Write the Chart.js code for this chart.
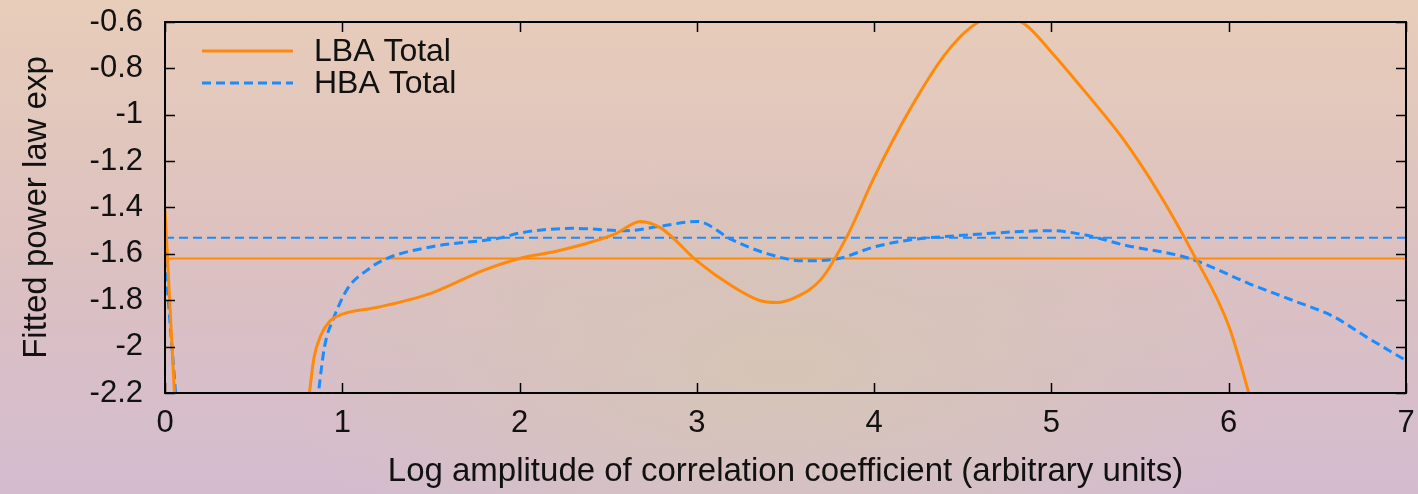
<!DOCTYPE html>
<html>
<head>
<meta charset="utf-8">
<script src="https://cdn.jsdelivr.net/npm/chart.js@4.4.1/dist/chart.umd.min.js"></script>
<style>
  html, body { margin: 0; padding: 0; }
  body {
    width: 1418px; height: 494px; overflow: hidden;
    background:
      radial-gradient(ellipse at 55% 75%, rgba(214,198,180,0.9) 0%, rgba(214,198,180,0) 45%),
      linear-gradient(180deg, #e8cdba 0%, #dcc1c0 50%, #d4bccf 100%);
  }
  #wrap { position: relative; width: 1418px; height: 494px; }
</style>
</head>
<body>
<div id="wrap"><canvas id="chart" width="1418" height="494"></canvas></div>
<script>
// LBA Total curve (null = gap where the curve leaves the plot)
const lbaX = [0, 0.06, null, 0.80, 0.84, 0.88, 0.93, 1.0, 1.2, 1.5, 1.8, 2.0, 2.2, 2.4, 2.55, 2.68, 2.8, 3.0, 3.2, 3.35, 3.45, 3.55, 3.7, 3.85, 4.0, 4.2, 4.4, 4.55, 4.7, 4.85, 5.0, 5.2, 5.4, 5.6, 5.8, 6.0, 6.15];
const lbaY = [-1.41, -2.3, null, -2.3, -2.05, -1.95, -1.89, -1.86, -1.83, -1.77, -1.67, -1.62, -1.59, -1.55, -1.51, -1.46, -1.49, -1.63, -1.74, -1.80, -1.81, -1.79, -1.71, -1.52, -1.27, -0.98, -0.74, -0.62, -0.57, -0.61, -0.73, -0.91, -1.10, -1.33, -1.60, -1.91, -2.3];

// HBA Total curve
const hbaX = [0, 0.07, null, 0.85, 0.9, 0.95, 1.03, 1.14, 1.25, 1.5, 1.9, 2.0, 2.3, 2.6, 2.8, 3.0, 3.2, 3.4, 3.6, 3.8, 4.0, 4.2, 4.5, 5.0, 5.2, 5.4, 5.78, 6.12, 6.36, 6.59, 6.78, 7.0];
const hbaY = [-1.62, -2.3, null, -2.3, -2.0, -1.88, -1.75, -1.67, -1.62, -1.57, -1.53, -1.51, -1.49, -1.50, -1.48, -1.46, -1.54, -1.60, -1.63, -1.62, -1.57, -1.54, -1.52, -1.50, -1.52, -1.56, -1.62, -1.73, -1.80, -1.87, -1.96, -2.06];

// mean levels (horizontal lines)
const lbaMean = -1.62;
const hbaMean = -1.53;

const xTicks = [0, 1, 2, 3, 4, 5, 6, 7];
const yTicks = [-2.2, -2, -1.8, -1.6, -1.4, -1.2, -1, -0.8, -0.6];

const orange = '#ff8a0a';
const blue = '#1a8cff';
const fontFamily = '"Liberation Sans", Arial, sans-serif';

function toPoints(xs, ys) {
    return xs.map((x, i) => x === null ? { x: null, y: null } : { x: x, y: ys[i] });
}

// frame, inward ticks on all sides, and legend
const framePlugin = {
    id: 'frame',
    afterDraw(chart) {
        const ctx = chart.ctx;
        const a = chart.chartArea;
        const xs = chart.scales.x, ys = chart.scales.y;
        const tl = 10;
        ctx.save();
        ctx.strokeStyle = '#000';
        ctx.lineWidth = 2;
        ctx.strokeRect(a.left, a.top, a.right - a.left, a.bottom - a.top);
        ctx.lineWidth = 1.5;
        ctx.beginPath();
        xTicks.forEach(v => {
            const p = Math.round(xs.getPixelForValue(v)) + 0.5;
            ctx.moveTo(p, a.bottom); ctx.lineTo(p, a.bottom - tl);
            ctx.moveTo(p, a.top); ctx.lineTo(p, a.top + tl);
        });
        yTicks.forEach(v => {
            const p = Math.round(ys.getPixelForValue(v)) + 0.5;
            ctx.moveTo(a.left, p); ctx.lineTo(a.left + tl, p);
            ctx.moveTo(a.right, p); ctx.lineTo(a.right - tl, p);
        });
        ctx.stroke();

        // legend
        const items = [
            { label: 'LBA Total', color: orange, dash: [] },
            { label: 'HBA Total', color: blue, dash: [9, 5] }
        ];
        ctx.font = '32px ' + fontFamily;
        ctx.textBaseline = 'middle';
        items.forEach((it, i) => {
            const y = a.top + 29 + i * 32;
            ctx.strokeStyle = it.color;
            ctx.lineWidth = 3;
            ctx.setLineDash(it.dash);
            ctx.beginPath();
            ctx.moveTo(a.left + 37, y);
            ctx.lineTo(a.left + 128, y);
            ctx.stroke();
            ctx.setLineDash([]);
            ctx.fillStyle = '#111';
            ctx.fillText(it.label, a.left + 149, y + 1);
        });
        ctx.restore();
    }
};

const ctx = document.getElementById('chart');
new Chart(ctx, {
    type: 'line',
    data: {
        datasets: [
            {
                label: 'LBA Total',
                data: toPoints(lbaX, lbaY),
                borderColor: orange,
                borderWidth: 3,
                pointRadius: 0,
                cubicInterpolationMode: 'monotone',
                spanGaps: false
            },
            {
                label: 'HBA Total',
                data: toPoints(hbaX, hbaY),
                borderColor: blue,
                borderWidth: 3,
                borderDash: [9, 5],
                pointRadius: 0,
                cubicInterpolationMode: 'monotone',
                spanGaps: false
            },
            {
                label: 'LBA mean',
                data: [{ x: 0, y: lbaMean }, { x: 7, y: lbaMean }],
                borderColor: orange,
                borderWidth: 2,
                pointRadius: 0
            },
            {
                label: 'HBA mean',
                data: [{ x: 0, y: hbaMean }, { x: 7, y: hbaMean }],
                borderColor: blue,
                borderWidth: 2,
                borderDash: [9, 5],
                pointRadius: 0
            }
        ]
    },
    options: {
        responsive: false,
        animation: false,
        layout: { padding: { top: 22, right: 12, left: 0, bottom: 0 } },
        plugins: { legend: { display: false }, tooltip: { enabled: false } },
        scales: {
            x: {
                type: 'linear',
                min: 0, max: 7,
                afterBuildTicks: s => { s.ticks = xTicks.map(v => ({ value: v })); },
                afterFit: s => { s.height = 101; s.paddingLeft = 0; s.paddingRight = 0; },
                grid: { display: false, drawTicks: false },
                border: { display: false },
                ticks: {
                    color: '#111',
                    padding: 12,
                    maxRotation: 0,
                    font: { family: fontFamily, size: 31 }
                },
                title: {
                    display: true,
                    text: 'Log amplitude of correlation coefficient (arbitrary units)',
                    color: '#111',
                    font: { family: fontFamily, size: 33 },
                    padding: { top: 0, bottom: 2 }
                }
            },
            y: {
                min: -2.2, max: -0.6,
                afterBuildTicks: s => { s.ticks = yTicks.map(v => ({ value: v })); },
                afterFit: s => { s.width = 165; s.paddingTop = 0; s.paddingBottom = 0; },
                grid: { display: false, drawTicks: false },
                border: { display: false },
                ticks: {
                    color: '#111',
                    padding: 22,
                    font: { family: fontFamily, size: 31 },
                    callback: v => String(Math.round(v * 10) / 10)
                },
                title: {
                    display: true,
                    text: 'Fitted power law exp',
                    color: '#111',
                    font: { family: fontFamily, size: 33 },
                    padding: { top: 17, bottom: 0 }
                }
            }
        }
    },
    plugins: [framePlugin]
});
</script>
</body>
</html>
